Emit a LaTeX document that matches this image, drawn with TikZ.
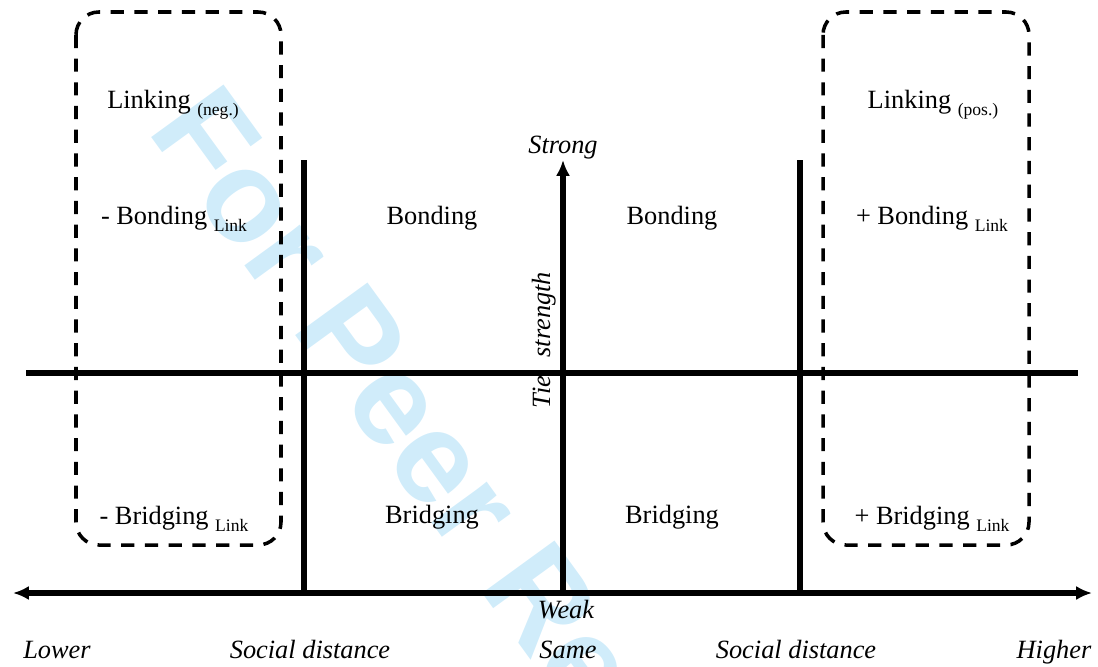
\documentclass[tikz,border=0pt]{standalone}
\usepackage{fontspec}
\setmainfont{Liberation Serif}
\newfontfamily\wmfont{Liberation Sans}
\usetikzlibrary{arrows.meta}
\definecolor{wmblue}{RGB}{208,236,250}
\newcommand{\lsub}[1]{\raisebox{-4.5pt}{\fontsize{10}{12}\selectfont #1}}

\begin{document}
\begin{tikzpicture}[x=0.02cm, y=-0.02cm, >={Latex[length=9pt,width=8pt]},
    axis/.style = {line width=2.9pt},
    group/.style = {line width=2pt, dash pattern=on 7.5pt off 6pt, rounded corners=13pt},
    lab/.style = {anchor=base, inner sep=0, font=\fontsize{15}{18}\selectfont},
    axlab/.style = {lab, font=\fontsize{15}{18}\selectfont\itshape},
    wmark/.style = {anchor=base west, rotate=-54, inner sep=0, text=wmblue, font=\wmfont\bfseries\fontsize{74}{80}\selectfont}]
    \useasboundingbox (0,0) rectangle (1098,666);
    \begin{scope}
        \clip (0,0) rectangle (1098,666);
        \node[wmark] (wm) at (146,130) {For Peer Review};
    \end{scope}
    % axes and borders
    \coordinate (hl) at (26,373);  \coordinate (hr) at (1078,373);
    \coordinate (lo) at (13,593);  \coordinate (hi) at (1092,593);
    \coordinate (wk) at (563,593); \coordinate (st) at (563,160);
    \coordinate (v1t) at (304,160); \coordinate (v1b) at (304,593);
    \coordinate (v2t) at (800,160); \coordinate (v2b) at (800,593);
    \draw[axis] (hl) -- (hr);
    \draw[axis, <->] (lo) -- (hi);
    \draw[axis, ->] (wk) -- (st);
    \draw[axis] (v1t) -- (v1b);
    \draw[axis] (v2t) -- (v2b);
    % linking groups
    \coordinate (ga) at (76,12);  \coordinate (gb) at (281,545);
    \coordinate (gc) at (823,12); \coordinate (gd) at (1029,545);
    \draw[group] (ga) rectangle (gb);
    \draw[group] (gc) rectangle (gd);
    \node[lab] (lneg) at (173,108) {Linking \lsub{(neg.)}};
    \node[lab] (bneg) at (174,224) {- Bonding \lsub{Link}};
    \node[lab] (brneg) at (174,524) {- Bridging \lsub{Link}};
    \node[lab] (b1) at (432,224) {Bonding};
    \node[lab] (br1) at (432,523) {Bridging};
    \node[lab] (b2) at (672,224) {Bonding};
    \node[lab] (br2) at (672,523) {Bridging};
    \node[lab] (lpos) at (933,108) {Linking \lsub{(pos.)}};
    \node[lab] (bpos) at (932,224) {+ Bonding \lsub{Link}};
    \node[lab] (brpos) at (932,524) {+ Bridging \lsub{Link}};
    % axis labels
    \node[axlab] (strong) at (563,153) {Strong};
    \node[axlab] (weak) at (566,618) {Weak};
    \node[axlab, rotate=90] (tie) at (550,340) {Tie\hspace{0.7em}strength};
    \node[axlab] (lower) at (57,658) {Lower};
    \node[axlab] (sdl) at (310,658) {Social distance};
    \node[axlab] (same) at (568,658) {Same};
    \node[axlab] (sdr) at (796,658) {Social distance};
    \node[axlab] (higher) at (1054,658) {Higher};
\end{tikzpicture}
\end{document}
